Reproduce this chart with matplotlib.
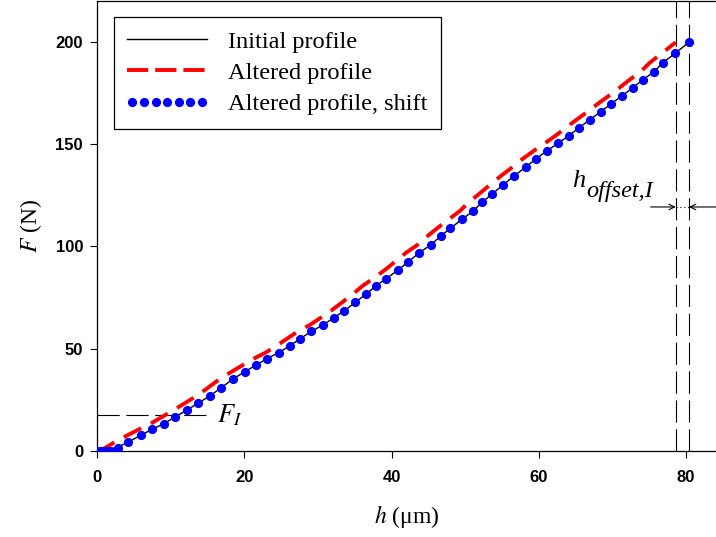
import matplotlib
matplotlib.use("Agg")
import matplotlib.pyplot as plt
from matplotlib.lines import Line2D
from matplotlib.legend_handler import HandlerLine2D
import numpy as np

# Load-displacement data
h_init = [0.0, 2.8, 4.25, 5.95, 7.5, 9.1, 10.6, 12.2, 13.7, 15.4, 16.9, 18.5, 20.1,
          21.6, 23.1, 24.7, 26.2, 27.6, 29.1, 30.7, 32.2, 33.6, 35.1, 36.6, 37.9,
          39.3, 40.9, 42.3, 43.8, 45.3, 46.7, 48.0, 49.6, 51.1, 52.3, 53.7, 55.1,
          56.7, 58.2, 59.6, 61.1, 62.6, 64.1, 65.5, 66.9, 68.4, 69.8, 71.3, 72.8,
          74.1, 75.6, 76.9, 78.5, 80.4]
F_init = [0.0, 1.8, 4.4, 7.7, 10.6, 13.4, 16.6, 20.0, 23.3, 27.1, 31.0, 35.3, 38.8,
          42.0, 45.2, 48.1, 51.5, 54.9, 58.5, 61.6, 65.2, 68.6, 72.7, 76.9, 80.8,
          84.3, 88.5, 92.6, 97.0, 100.7, 105.1, 108.9, 113.3, 117.4, 121.6, 125.7,
          129.9, 134.6, 138.7, 142.8, 146.7, 150.4, 154.2, 158.1, 161.9, 165.8,
          169.7, 173.6, 177.7, 181.4, 185.3, 189.9, 194.4, 199.8]

h_alt = [0.0, 1.0, 2.45, 4.15, 5.7, 7.3, 8.8, 10.4, 11.9, 13.6, 15.1, 16.7, 18.3,
         19.8, 21.3, 22.9, 24.4, 25.8, 27.3, 28.9, 30.4, 31.8, 33.3, 34.8, 36.1,
         37.5, 39.1, 40.5, 42.0, 43.5, 44.9, 46.2, 47.8, 49.3, 50.5, 51.9, 53.3,
         54.9, 56.4, 57.8, 59.3, 60.8, 62.3, 63.7, 65.1, 66.6, 68.0, 69.5, 71.0,
         72.3, 73.8, 75.1, 76.7, 78.6]
F_alt = [0.0, 1.3, 4.4, 7.7, 10.6, 13.4, 16.6, 20.0, 23.3, 27.1, 31.0, 35.3, 38.8,
         42.0, 45.2, 48.1, 51.5, 54.9, 58.5, 61.6, 65.2, 68.6, 72.7, 76.9, 80.8,
         84.3, 88.5, 92.6, 97.0, 100.7, 105.1, 108.9, 113.3, 117.4, 121.6, 125.7,
         129.9, 134.6, 138.7, 142.8, 146.7, 150.4, 154.2, 158.1, 161.9, 165.8,
         169.7, 173.6, 177.7, 181.4, 185.3, 189.9, 194.4, 199.8]

h_offset = 1.8          # shift of the altered profile (µm)
F_I = 17.6              # force level F_I (N)
h_pad = [0.0, 0.6, 1.2]  # zero-load points ahead of the shifted curve

h_shift = np.concatenate([h_pad, np.array(h_alt) + h_offset])
F_shift = np.concatenate([np.zeros(len(h_pad)), F_alt])

x_ticks = [0, 20, 40, 60, 80]
y_ticks = [0, 50, 100, 150, 200]

plt.rcParams["mathtext.fontset"] = "stix"
serif = "Liberation Serif"

W, H = 716, 537
fig = plt.figure(figsize=(W / 100, H / 100), dpi=100)
ax = fig.add_axes([97 / W, 86 / H, 619 / W, 450 / H])

ax.plot(h_init, F_init, color="black", lw=1.0, zorder=3)
ax.plot(h_alt, F_alt, color="#ff0000", lw=2.8, dashes=(5, 2.8),
        solid_capstyle="butt", zorder=2)
ax.plot(h_shift, F_shift, linestyle="none", marker="o", ms=5.6,
        color="#0000ff", mec="#0000ff", zorder=4)

ax.set_xlim(0, 84.07)
ax.set_ylim(0, 220)

# vertical guides at the end of both curves
dash_style = dict(color="black", lw=0.8, dashes=(20, 6))
ax.axvline(h_alt[-1], **dash_style, zorder=1)
ax.axvline(h_alt[-1] + h_offset, **dash_style, zorder=1)

# F_I marker
ax.plot([0, 15.3], [F_I, F_I], color="black", lw=0.8, dashes=(20, 6), zorder=1)
ax.text(16.3, F_I, r"$F_I$", fontsize=19, va="center", ha="left")

# offset dimension arrows
ya = 119.3
ax.annotate("", xy=(h_alt[-1], ya), xytext=(75.2, ya),
            arrowprops=dict(arrowstyle="->", lw=0.8, color="black",
                            shrinkA=0, shrinkB=0))
ax.annotate("", xy=(h_alt[-1] + h_offset, ya), xytext=(84.07, ya),
            arrowprops=dict(arrowstyle="->", lw=0.8, color="black",
                            shrinkA=0, shrinkB=0), annotation_clip=False)
ax.plot([h_alt[-1], h_alt[-1] + h_offset], [ya, ya], color="black", lw=0.8,
        dashes=(1, 2.5), zorder=1)
ax.text(64.5, 129.1, "h", fontsize=19, fontfamily=serif, fontstyle="italic",
        va="baseline", ha="left")
ax.text(66.4, 124.2, "offset,I", fontsize=17.5, fontfamily=serif, fontstyle="italic",
        va="baseline", ha="left")

# axes styling
for side in ("left", "bottom", "top"):
    ax.spines[side].set_linewidth(0.9)
ax.spines["right"].set_visible(False)
ax.set_xticks(x_ticks)
ax.set_yticks(y_ticks)
ax.tick_params(direction="out", length=5, width=0.8, top=False, right=False)
ax.tick_params(axis="x", pad=9)
ax.tick_params(axis="y", pad=5)
for lab in ax.get_xticklabels() + ax.get_yticklabels():
    lab.set_fontfamily("Liberation Sans")
    lab.set_fontweight("bold")
    lab.set_fontsize(12)

ax.set_xlabel(r"$h$ (μm)", fontsize=17, fontfamily=serif, labelpad=13)
ax.set_ylabel(r"$F$ (N)", fontsize=17, fontfamily=serif, labelpad=8)

h_black = Line2D([], [], color="black", lw=1.0)
h_red = Line2D([], [], color="#ff0000", lw=2.8, dashes=(5.45, 1.8),
               solid_capstyle="butt")
h_blue = Line2D([], [], linestyle="none", marker="o", ms=5.6, color="#0000ff")
labels = ["Initial profile", "Altered profile", "Altered profile, shift"]
leg = ax.legend([h_black, h_red, h_blue], labels, loc="upper left",
                bbox_to_anchor=(0.0275, 0.9644),
                borderaxespad=0, fancybox=False, framealpha=1, edgecolor="black",
                prop={"family": serif, "size": 17.6},
                handler_map={h_black: HandlerLine2D(numpoints=1),
                             h_red: HandlerLine2D(numpoints=1),
                             h_blue: HandlerLine2D(numpoints=7, marker_pad=0.2)},
                handlelength=3.245, handletextpad=0.857, borderpad=0.55,
                labelspacing=0.38)
leg.get_frame().set_linewidth(0.9)

fig.savefig("out.png", dpi=100)
